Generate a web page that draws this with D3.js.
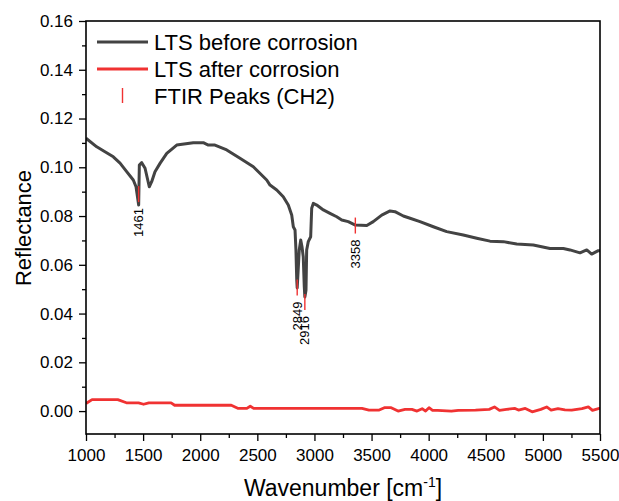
<!DOCTYPE html>
<html>
<head>
<meta charset="utf-8">
<script src="https://cdn.jsdelivr.net/npm/d3@7"></script>
<style>
  html, body { margin: 0; padding: 0; background: #fff; }
  svg { display: block; font-family: "Liberation Sans", Arial, sans-serif; }
</style>
</head>
<body>
<svg id="chart" width="619" height="501"></svg>
<script>
// ---- data ----
const beforeX = [1000,1094,1166,1239,1298,1356,1414,1438,1461,1467,1488,1517,1554,1575,1604,1648,1707,1794,1939,2027,2071,2129,2232,2348,2465,2582,2611,2670,2727,2771,2801,2815,2830,2838,2845,2849,2867,2880,2891,2902,2911,2916,2926,2932,2946,2967,2976,2990,3020,3078,3136,3195,3239,3296,3358,3458,3515,3589,3662,3705,3778,3837,3924,4041,4158,4303,4421,4537,4654,4771,4916,5062,5179,5237,5325,5384,5427,5485,5500];
const beforeY = [0.1119,0.1084,0.1064,0.1043,0.1017,0.0982,0.0948,0.0920,0.0845,0.1009,0.1019,0.0996,0.0920,0.0941,0.0982,0.1016,0.1057,0.1091,0.1101,0.1101,0.1091,0.1091,0.1071,0.1037,0.1002,0.0948,0.0927,0.0907,0.0879,0.0845,0.0804,0.0756,0.0743,0.0661,0.0538,0.0505,0.0661,0.0702,0.0674,0.0633,0.0510,0.0468,0.0496,0.0661,0.0695,0.0715,0.0832,0.0852,0.0845,0.0825,0.0811,0.0797,0.0784,0.0777,0.0763,0.0761,0.0777,0.0804,0.0821,0.0818,0.0800,0.0791,0.0777,0.0756,0.0736,0.0722,0.0709,0.0697,0.0695,0.0685,0.0681,0.0667,0.0667,0.0661,0.0649,0.0661,0.0644,0.0658,0.0658];

const afterX = [1000,1053,1278,1354,1460,1504,1550,1745,1776,2272,2333,2408,2438,2468,3416,3477,3567,3612,3672,3732,3793,3853,3898,3943,3973,4003,4034,4078,4199,4259,4410,4530,4576,4620,4681,4756,4786,4846,4906,4982,5033,5072,5132,5193,5252,5342,5398,5434,5494,5500];
const afterY = [0.0031,0.0047,0.0047,0.0034,0.0034,0.0028,0.0034,0.0034,0.0024,0.0024,0.0011,0.0011,0.0020,0.0011,0.0011,0.0004,0.0004,0.0014,0.0014,0.0000,0.0007,0.0007,0.0000,0.0010,0.0000,0.0014,0.0003,0.0003,0.0000,0.0003,0.0004,0.0007,0.0017,0.0003,0.0007,0.0011,0.0004,0.0011,-0.0003,0.0007,0.0017,0.0004,0.0010,0.0005,0.0004,0.0010,0.0017,0.0003,0.0011,0.0011];

const peakX = [1461, 2849, 2916, 3358];
const peakY = [0.0890, 0.0507, 0.0447, 0.0761];
const peakLabels = ["1461", "2849", "2916", "3358"];

const xTicks = [1000,1500,2000,2500,3000,3500,4000,4500,5000,5500];
const xMinorTicks = [1250,1750,2250,2750,3250,3750,4250,4750,5250];
const yTicks = [0.00,0.02,0.04,0.06,0.08,0.10,0.12,0.14,0.16];
const yMinorTicks = [0.01,0.03,0.05,0.07,0.09,0.11,0.13,0.15];

const seriesNames = ["LTS before corrosion", "LTS after corrosion", "FTIR Peaks (CH2)"];
const darkColor = "#434343";
const redColor = "#f03232";

// ---- layout ----
const svg = d3.select("#chart");
const L = 86, R = 600, T = 21, B = 434;
const x = d3.scaleLinear().domain([1000, 5500]).range([L, R]);
const y = d3.scaleLinear().domain([-0.0094, 0.16]).range([B, T]);

const line = d3.line().x(d => x(d[0])).y(d => y(d[1]));

svg.append("clipPath").attr("id", "clip")
  .append("rect").attr("x", L).attr("y", T).attr("width", R - L).attr("height", B - T);

const plot = svg.append("g").attr("clip-path", "url(#clip)");

plot.append("path")
  .datum(afterX.map((v, i) => [v, afterY[i]]))
  .attr("d", line).attr("fill", "none")
  .attr("stroke", redColor).attr("stroke-width", 2.8).attr("stroke-linejoin", "round");

plot.append("path")
  .datum(beforeX.map((v, i) => [v, beforeY[i]]))
  .attr("d", line).attr("fill", "none")
  .attr("stroke", darkColor).attr("stroke-width", 3).attr("stroke-linejoin", "round");

// peak markers
const pk = svg.append("g");
peakX.forEach((px, i) => {
  const cx = x(px), cy = y(peakY[i]);
  pk.append("line").attr("x1", cx).attr("x2", cx).attr("y1", cy - 8).attr("y2", cy + 8)
    .attr("stroke", redColor).attr("stroke-width", 1.4);
  pk.append("text")
    .attr("transform", `translate(${cx + 4.5},${cy + 14}) rotate(-90)`)
    .attr("text-anchor", "end").attr("font-size", 13).attr("fill", "#000")
    .text(peakLabels[i]);
});

// axes
svg.append("g").attr("transform", `translate(0,${B})`)
  .call(d3.axisBottom(x).tickValues(xTicks).tickFormat(d3.format("d")).tickSize(7).tickPadding(8));
svg.append("g").attr("transform", `translate(0,${B})`)
  .call(d3.axisBottom(x).tickValues(xMinorTicks).tickFormat("").tickSize(4));
svg.append("g").attr("transform", `translate(${L},0)`)
  .call(d3.axisLeft(y).tickValues(yTicks).tickFormat(d3.format(".2f")).tickSize(7).tickPadding(6));
svg.append("g").attr("transform", `translate(${L},0)`)
  .call(d3.axisLeft(y).tickValues(yMinorTicks).tickFormat("").tickSize(4));

svg.selectAll(".tick line").attr("stroke", "#000").attr("stroke-width", 1.3);
svg.selectAll(".domain").remove();
svg.selectAll(".tick text").attr("font-size", 17).attr("fill", "#000")
  .attr("font-family", "'Liberation Sans', Arial, sans-serif");

// frame
svg.append("rect").attr("x", L).attr("y", T).attr("width", R - L).attr("height", B - T)
  .attr("fill", "none").attr("stroke", "#000").attr("stroke-width", 1.6);

// axis titles
const xt = svg.append("text").attr("x", (L + R) / 2).attr("y", 496)
  .attr("text-anchor", "middle").attr("font-size", 23).attr("fill", "#000");
xt.append("tspan").text("Wavenumber [cm");
xt.append("tspan").attr("font-size", 14).attr("dy", -9).text("-1");
xt.append("tspan").attr("dy", 9).text("]");

svg.append("text").attr("transform", "translate(31,228) rotate(-90)")
  .attr("text-anchor", "middle").attr("font-size", 22).attr("fill", "#000")
  .text("Reflectance");

// legend
const lg = svg.append("g");
const rowsY = [42, 69, 96];
lg.append("line").attr("x1", 97).attr("x2", 148).attr("y1", rowsY[0]).attr("y2", rowsY[0])
  .attr("stroke", darkColor).attr("stroke-width", 3);
lg.append("line").attr("x1", 97).attr("x2", 148).attr("y1", rowsY[1]).attr("y2", rowsY[1])
  .attr("stroke", redColor).attr("stroke-width", 2.8);
lg.append("line").attr("x1", 122.5).attr("x2", 122.5).attr("y1", rowsY[2] - 8).attr("y2", rowsY[2] + 7)
  .attr("stroke", redColor).attr("stroke-width", 1.4);
seriesNames.forEach((n, i) => {
  lg.append("text").attr("x", 154).attr("y", rowsY[i]).attr("dy", "0.36em")
    .attr("font-size", 22).attr("fill", "#000").text(n);
});
</script>
</body>
</html>
